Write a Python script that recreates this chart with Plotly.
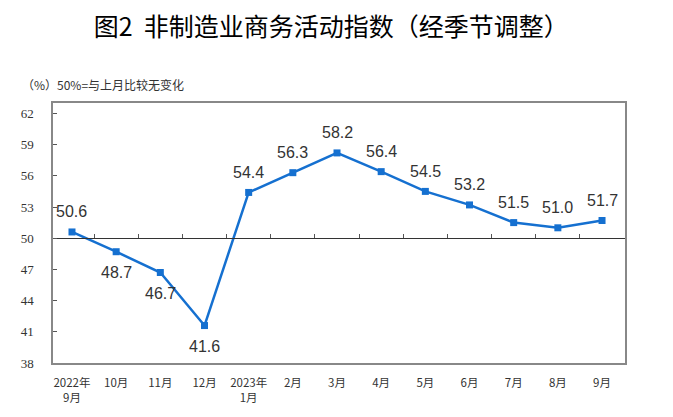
import plotly.graph_objects as go

categories = ["2022年<br>9月", "10月", "11月", "12月", "2023年<br>1月", "2月", "3月",
              "4月", "5月", "6月", "7月", "8月", "9月"]
values = [50.6, 48.7, 46.7, 41.6, 54.4, 56.3, 58.2, 56.4, 54.5, 53.2, 51.5, 51.0, 51.7]
label_above = [True, False, False, False, True, True, True, True, True, True, True, True, True]
y_ticks = [38, 41, 44, 47, 50, 53, 56, 59, 62]

idx = list(range(len(categories)))
BLUE = "#1570d0"
YMIN, YMAX = 38, 63
XR = [-0.43, 12.52]

fig = go.Figure()
fig.add_trace(go.Scatter(
    x=idx, y=values, mode="lines+markers",
    line=dict(color=BLUE, width=2.5),
    marker=dict(symbol="square", size=7, color=BLUE),
    xaxis="x", yaxis="y", cliponaxis=False, hoverinfo="skip", showlegend=False,
))
# helper trace for the baseline axis at 50
fig.add_trace(go.Scatter(
    x=idx, y=values, mode="lines", line=dict(width=0), opacity=0,
    xaxis="x2", yaxis="y", hoverinfo="skip", showlegend=False,
))

annotations = [dict(
    text=f"{v:.1f}", x=i, y=v, xref="x", yref="y", showarrow=False,
    xanchor="center", yanchor="middle", yshift=(20 if up else -21),
    font=dict(family="Liberation Sans, Arial", size=16, color="#333333"),
) for i, v, up in zip(idx, values, label_above)]

annotations.append(dict(
    text="（%）50%=与上月比较无变化", xref="paper", yref="paper",
    x=-0.0577, y=1.0725, xanchor="left", yanchor="middle",
    showarrow=False, font=dict(family="Noto Sans CJK SC", size=12, color="#333333"),
))

fig.update_layout(
    width=665, height=409,
    margin=dict(l=45, r=48, t=95, b=52),
    paper_bgcolor="white", plot_bgcolor="white",
    title=dict(text="图2  非制造业商务活动指数（经季节调整）",
               x=0.486, xanchor="center", y=0.953, yanchor="middle",
               font=dict(family="Noto Sans CJK SC", size=25, color="#000000")),
    xaxis=dict(
        type="linear", range=XR, tickmode="array", tickvals=idx, ticktext=categories,
        showgrid=False, zeroline=False, showline=True, mirror=True,
        linecolor="#888888", linewidth=1.5, ticks="",
        tickfont=dict(family="Noto Sans CJK SC", size=11.5, color="#333333"),
        ticklabelstandoff=8,
    ),
    xaxis2=dict(
        overlaying="x", anchor="free", position=(50 - YMIN) / (YMAX - YMIN),
        range=XR, tickmode="array", tickvals=[i + 0.5 for i in idx[:-1]],
        showticklabels=False, showgrid=False, zeroline=False,
        showline=True, linecolor="#333333", linewidth=1,
        ticks="inside", ticklen=4, tickcolor="#555555",
    ),
    yaxis=dict(
        range=[YMIN, YMAX], domain=[0, 1], tickmode="array", tickvals=y_ticks,
        showgrid=False, zeroline=False, showline=True, mirror=True,
        linecolor="#888888", linewidth=1.5, ticks="inside", ticklen=4, tickcolor="#555555",
        tickfont=dict(family="Liberation Serif, Times New Roman", size=13, color="#333333"),
        ticklabelstandoff=15,
    ),
    annotations=annotations,
)

fig.write_html("out.html")
